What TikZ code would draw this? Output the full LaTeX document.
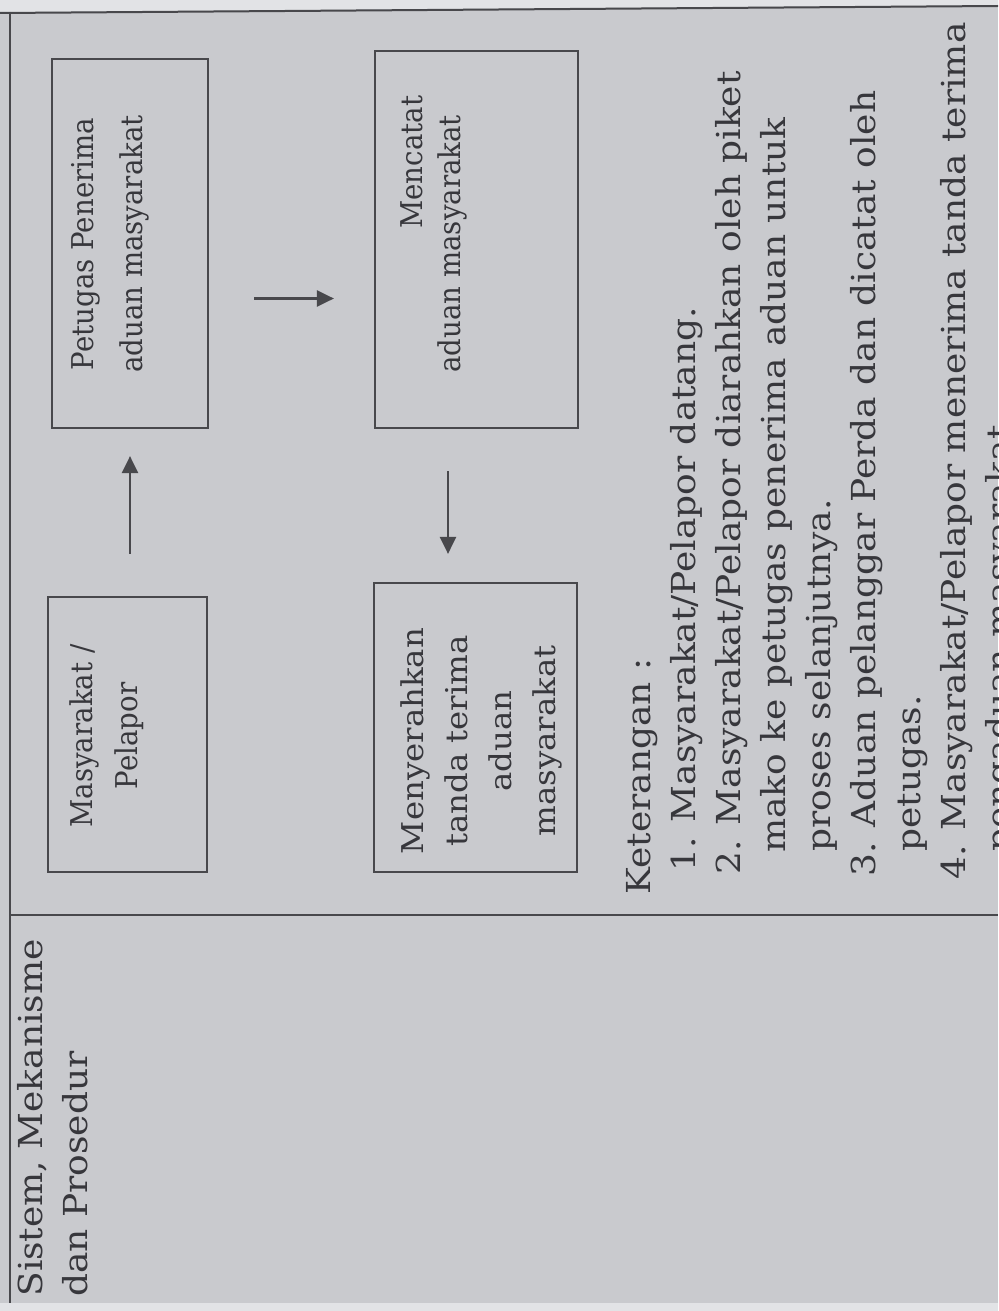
\documentclass[tikz,border=0pt]{standalone}
\usepackage{fontspec}
\setmainfont{DejaVu Serif}
\newfontfamily\lstfont[FakeStretch=1.09]{DejaVu Serif}
\newfontfamily\bxfontA[FakeStretch=0.92]{DejaVu Serif}
\newfontfamily\bxfontB[FakeStretch=1.08]{DejaVu Serif}
\usetikzlibrary{arrows.meta}
\definecolor{paper}{RGB}{201,202,206}
\definecolor{paperlight}{RGB}{226,227,230}
\definecolor{ink}{RGB}{55,55,60}
\definecolor{rule}{RGB}{72,72,76}
\begin{document}
\begin{tikzpicture}[x=0.5pt,y=-0.5pt,
  box/.style={draw=rule, line width=1.1pt, inner sep=0pt},
  boxtxtA/.style={rotate=90, align=center, inner sep=0pt, text=ink, font=\bxfontA\fontsize{15}{#1}\selectfont},
  boxtxtB/.style={rotate=90, align=center, inner sep=0pt, text=ink, font=\bxfontB\fontsize{15}{#1}\selectfont},
  notes/.style={rotate=90, align=left, inner sep=0pt, text=ink, font=\lstfont\fontsize{16.5}{22.5}\selectfont},
  arr/.style={draw=rule, line width=1.3pt, -{Triangle[length=8.5pt,width=8pt]}},
  frame/.style={draw=rule, line width=1pt}]
\useasboundingbox (0,0) rectangle (998,1311);
\begin{scope}
\clip (0,0) rectangle (998,1311);
\fill[paper] (0,0) rectangle (998,1311);
\fill[paperlight] (0,0) -- (998,0) -- (998,5) -- (0,12) -- cycle;
\fill[paperlight] (0,1303) rectangle (998,1311);
\draw[frame] (0,13) -- (998,6);
\draw[frame] (10,12) -- (10,1303);
\draw[frame] (10,915) -- (998,915);

\node[box, minimum width=79.5pt, minimum height=137.5pt] (b1) at (127.5,734.5) {};
\node[box, minimum width=78pt, minimum height=184.5pt] (b2) at (130,243.5) {};
\node[box, minimum width=101.5pt, minimum height=188.5pt] (b3) at (476.5,239.5) {};
\node[box, minimum width=101.5pt, minimum height=144.5pt] (b4) at (475.5,727.5) {};

\node[boxtxtA=22.5] (t1) at (106.5,736) {Masyarakat /\\Pelapor};
\node[boxtxtA=24.5] (t2) at (110,244) {Petugas Penerima\\aduan masyarakat};
\node[boxtxtA=19, align=left, anchor=west] (t3) at (433.5,373) {\hspace*{72pt}Mencatat\\aduan masyarakat};
\node[boxtxtB=22] (t4) at (481,741) {Menyerahkan\\tanda terima\\aduan\\masyarakat};

\coordinate (a1s) at ([xshift=1.25pt]b1.north);
\draw[arr, shorten <=21pt, shorten >=13.5pt] (a1s) -- (a1s |- b2.south);
\coordinate (a2s) at ([yshift=-27.5pt]b2.east);
\draw[arr, shorten <=22.5pt, shorten >=20pt] (a2s) -- (a2s -| b3.west);
\coordinate (a3s) at ([xshift=-14.25pt]b3.south);
\draw[arr, shorten <=21pt, shorten >=14pt] (a3s) -- (a3s |- b4.north);

\node[notes, anchor=base west] (hdr) at (87,1297) {Sistem, Mekanisme\\dan Prosedur};
\node[notes, anchor=base west] (ket) at (1010,895) {Keterangan :\\
\hspace*{11.5pt}1. Masyarakat/Pelapor datang.\\
\hspace*{10pt}2. Masyarakat/Pelapor diarahkan oleh piket\\
\hspace*{21pt}mako ke petugas penerima aduan untuk\\
\hspace*{21.5pt}proses selanjutnya.\\
\hspace*{9pt}3. Aduan pelanggar Perda dan dicatat oleh\\
\hspace*{21.5pt}petugas.\\
\hspace*{7.5pt}4. Masyarakat/Pelapor menerima tanda terima\\
\hspace*{21.5pt}pengaduan masyarakat};
\end{scope}
\end{tikzpicture}
\end{document}
